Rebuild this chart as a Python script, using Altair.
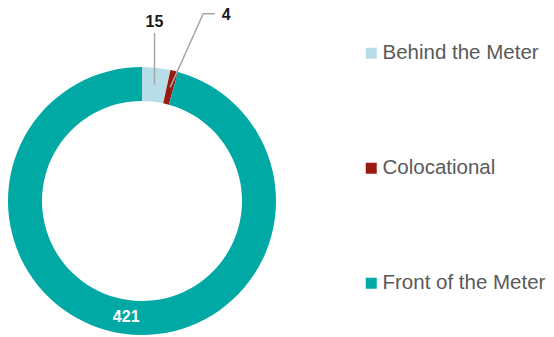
import math
import altair as alt
import pandas as pd

# ---- data ----
categories = ["Behind the Meter", "Colocational", "Front of the Meter"]
values = [15, 4, 421]
colors = ["#B7DEE8", "#9A1A12", "#00A9A4"]

# ---- geometry (styles) ----
OUTER_R = 134
INNER_R = 100
MID_R = 117

total = sum(values)
mids = []
acc = 0
for v in values:
    mids.append(acc + v / 2)
    acc += v
mid_ang = [m / total * 2 * math.pi for m in mids]

def polar(r, a):
    return r * math.sin(a), r * math.cos(a)

df = pd.DataFrame({"category": categories, "value": values, "order": list(range(len(values)))})

line_rows = []
text_rows = []
# slice 0: straight vertical leader
x0, y0 = polar(MID_R, mid_ang[0])
line_rows += [
    {"id": 0, "seq": 0, "x": x0, "y": y0},
    {"id": 0, "seq": 1, "x": x0, "y": y0 + 52},
]
text_rows.append({"x": x0, "y": y0 + 63, "label": str(values[0]), "kind": "out"})
# slice 1: bent leader
x1, y1 = polar(MID_R, mid_ang[1])
ex, ey = polar(197, mid_ang[1] + math.radians(4.2))
line_rows += [
    {"id": 1, "seq": 0, "x": x1, "y": y1},
    {"id": 1, "seq": 1, "x": ex, "y": ey},
    {"id": 1, "seq": 2, "x": ex + 11.5, "y": ey},
]
text_rows.append({"x": ex + 23, "y": ey - 1.5, "label": str(values[1]), "kind": "out"})
# slice 2: inside label
x2, y2 = polar(MID_R, mid_ang[2])
text_rows.append({"x": x2, "y": y2, "label": str(values[2]), "kind": "in"})

lines_df = pd.DataFrame(line_rows)
text_df = pd.DataFrame(text_rows)

xs = alt.Scale(domain=[-OUTER_R, OUTER_R], nice=False, zero=False)
ys = alt.Scale(domain=[-OUTER_R, OUTER_R], nice=False, zero=False)

arcs = alt.Chart(df).mark_arc(outerRadius=OUTER_R, innerRadius=INNER_R).encode(
    theta=alt.Theta("value:Q", stack=True),
    order=alt.Order("order:Q"),
    color=alt.Color(
        "category:N",
        scale=alt.Scale(domain=categories, range=colors),
        legend=alt.Legend(
            title=None,
            orient="none",
            legendX=353,
            legendY=-24,
            symbolType="square",
            symbolSize=121,
            symbolStrokeWidth=0,
            labelFontSize=20.5,
            labelFont="Liberation Sans",
            labelColor="#595959",
            labelOffset=1,
            rowPadding=94,
            padding=0,
            labelLimit=300,
        ),
    ),
)

leaders = alt.Chart(lines_df).mark_line(color="#A6A6A6", strokeWidth=1.5).encode(
    x=alt.X("x:Q", scale=xs, axis=None),
    y=alt.Y("y:Q", scale=ys, axis=None),
    detail="id:N",
    order="seq:Q",
)

labels_out = alt.Chart(text_df[text_df["kind"] == "out"]).mark_text(
    font="Liberation Sans", fontSize=16, fontWeight="bold", color="#1A1A1A"
).encode(
    x=alt.X("x:Q", scale=xs, axis=None),
    y=alt.Y("y:Q", scale=ys, axis=None),
    text="label:N",
)

labels_in = alt.Chart(text_df[text_df["kind"] == "in"]).mark_text(
    font="Liberation Sans", fontSize=16, fontWeight="bold", color="#FFFFFF"
).encode(
    x=alt.X("x:Q", scale=xs, axis=None),
    y=alt.Y("y:Q", scale=ys, axis=None),
    text="label:N",
)

chart = alt.layer(arcs, leaders, labels_out, labels_in).properties(
    width=268,
    height=268,
    autosize=alt.AutoSizeParams(type="none"),
    padding={"left": 0, "top": 59, "right": 270, "bottom": 0},
).configure_view(stroke=None)

chart.save("out.html", embed_options={"renderer": "svg", "actions": False})
